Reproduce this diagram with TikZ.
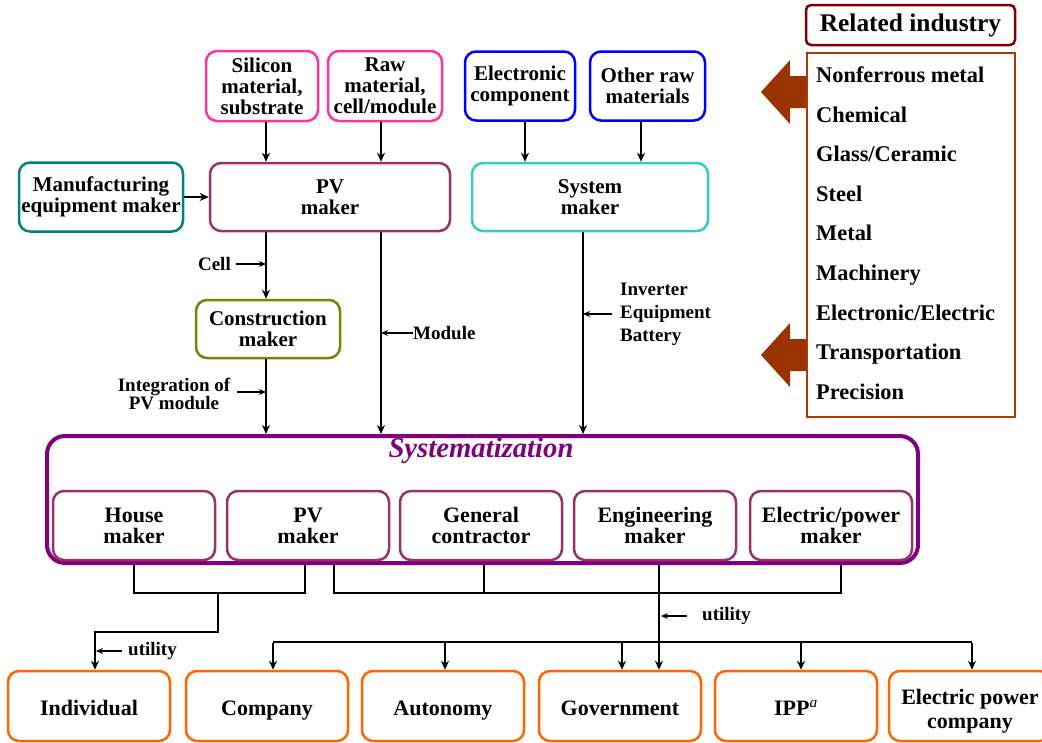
\documentclass[tikz,border=0pt]{standalone}
\usepackage{fontspec}
\setmainfont{Liberation Serif}
\usetikzlibrary{arrows.meta,calc}
\definecolor{cpink}{HTML}{FF3399}
\definecolor{cblue}{HTML}{0000FF}
\definecolor{cteal}{HTML}{008080}
\definecolor{cplum}{HTML}{993366}
\definecolor{cturq}{HTML}{33CCCC}
\definecolor{colive}{HTML}{808000}
\definecolor{cpurple}{HTML}{800080}
\definecolor{corange}{HTML}{FF6600}
\definecolor{cdred}{HTML}{800000}
\definecolor{cbrown}{HTML}{A63C0A}
\definecolor{carrow}{HTML}{993300}
\tikzset{
  box/.style={draw=#1, rounded corners=11pt, line width=2.5pt, align=center, inner sep=0pt,
    font=\bfseries\fontsize{21}{21}\selectfont},
  ibox/.style={box=cplum, minimum width=162pt, minimum height=69pt,
    font=\bfseries\fontsize{22}{21}\selectfont},
  obox/.style={box=corange, minimum width=162pt, minimum height=70pt,
    font=\bfseries\fontsize{22}{24}\selectfont},
  one/.style={text height=18pt, text depth=0pt},
  ln/.style={line width=2pt, black},
  arr/.style={ln, -{Stealth[length=9pt,width=8pt]}},
  sarr/.style={line width=1.5pt, -{Stealth[length=7pt,width=6pt]}},
  lbl/.style={font=\bfseries\fontsize{19}{19}\selectfont, inner sep=0pt, align=center},
  item/.style={font=\bfseries\fontsize{22.4}{22}\selectfont, inner sep=0pt, anchor=base west},
}
\begin{document}
\begin{tikzpicture}[x=1pt,y=-1pt]
\useasboundingbox (0,0) rectangle (1042,742);
% x positions of vertical connectors
\coordinate (xa) at (266,0);
\coordinate (xb) at (381,0);
\coordinate (xc) at (525,0);
\coordinate (xd) at (641,0);
\coordinate (xe) at (583,0);
% top boxes
\node[box=cpink, minimum width=112pt, minimum height=70pt] (sil) at (262,86) {Silicon\\material,\\substrate};
\node[box=cpink, minimum width=114pt, minimum height=70pt] (raw) at (385,86) {Raw\\material,\\cell/module};
\node[box=cblue, minimum width=110pt, minimum height=69pt] (elec) at (520,86) {Electronic\\component};
\node[box=cblue, minimum width=115pt, minimum height=69pt] (oraw) at (647.5,86) {Other raw\\materials};
\node[box=cteal, minimum width=164pt, minimum height=69pt] (mfg) at (101,197) {Manufacturing\\equipment maker};
\node[box=cplum, minimum width=240pt, minimum height=68pt] (pvm) at (330,197) {PV\\maker};
\node[box=cturq, minimum width=236pt, minimum height=68pt] (sysm) at (590,197) {System\\maker};
\node[box=colive, minimum width=144pt, minimum height=58pt] (cons) at (268,329) {Construction\\maker};
% related industry
\node[draw=cdred, rounded corners=5pt, line width=2.5pt, minimum width=209pt, minimum height=40pt,
  font=\bfseries\fontsize{25.4}{25}\selectfont, inner sep=0pt] (relind) at (910.5,25) {Related industry};
\node[draw=cbrown, line width=2.5pt, minimum width=208pt, minimum height=364pt, inner sep=0pt] (list) at (911,235) {};
\foreach \t [count=\i] in {Nonferrous metal,Chemical,Glass/Ceramic,Steel,Metal,Machinery,Electronic/Electric,Transportation,Precision}
  \node[item] (it\i) at (816,{82.5+39.6*(\i-1)}) {\t};
% big arrows
\fill[carrow] (list.west |- 0,76) -- (790,76) -- (790,60) -- (761,92) -- (790,124) -- (790,108) -- (list.west |- 0,108) -- cycle;
\fill[carrow] (list.west |- 0,339) -- (790,339) -- (790,323) -- (761,355) -- (790,387) -- (790,371) -- (list.west |- 0,371) -- cycle;
% systematization
\node[draw=cpurple, rounded corners=18pt, line width=4pt, minimum width=871pt, minimum height=127pt, inner sep=0pt] (systz) at (482.5,499.5) {};
\node[font=\bfseries\itshape\fontsize{28.7}{28}\selectfont, text=cpurple, inner sep=0pt] (stitle) at (481,451) {Systematization};
\node[ibox] (house) at (134,525.5) {House\\maker};
\node[ibox] (pv2) at (308,525.5) {PV\\maker};
\node[ibox] (gen) at (481,525.5) {General\\contractor};
\node[ibox] (eng) at (655,525.5) {Engineering\\maker};
\node[ibox] (epm) at (831,525.5) {Electric/power\\maker};
% bottom boxes
\node[obox, one] (ind) at (89,706) {Individual};
\node[obox, one] (comp) at (267,706) {Company};
\node[obox, one] (aut) at (443,706) {Autonomy};
\node[obox, one] (gov) at (620,706) {Government};
\node[obox, one] (ipp) at (796,706) {IPP\textsuperscript{\itshape\mdseries a}};
\node[obox] (epc) at (970,706) {};
\node[align=center, inner sep=0pt, font=\bfseries\fontsize{22}{24}\selectfont] (epctext) at (970,711) {Electric power\\company};
% top connectors
\draw[arr] (sil.south -| xa) -- (pvm.north -| xa);
\draw[arr] (raw.south -| xb) -- (pvm.north -| xb);
\draw[arr] (elec.south -| xc) -- (sysm.north -| xc);
\draw[arr] (oraw.south -| xd) -- (sysm.north -| xd);
\draw[arr] (mfg.east) -- (mfg.east -| pvm.west);
\draw[arr] (pvm.south -| xa) -- (cons.north -| xa);
\draw[arr] (pvm.south -| xb) -- (systz.north -| xb);
\draw[arr] (cons.south -| xa) -- (systz.north -| xa);
\draw[arr] (sysm.south -| xe) -- (systz.north -| xe);
% labels
\node[lbl, anchor=east] (cell) at (231,264) {Cell};
\draw[sarr] ([xshift=5pt]cell.east) -- (cell.east -| xa);
\node[lbl, anchor=west] (module) at (413,333) {Module};
\draw[sarr] (module.west) -- (module.west -| xb);
\node[lbl, font=\bfseries\fontsize{19}{18}\selectfont] (integ) at (174,394) {Integration of\\PV module};
\draw[sarr] ([xshift=7pt]integ.east |- 0,392) -- (xa |- 0,392);
\node[lbl, anchor=west, align=left, font=\bfseries\fontsize{19}{23}\selectfont] (inv) at (620,314) {Inverter\\Equipment\\Battery};
\draw[sarr] ([xshift=-8pt]inv.west) -- (inv.west -| xe);
% bottom connectors
\coordinate (j1) at (218,593);
\coordinate (j2) at (659,593);
\coordinate (j3) at (218,632);
\coordinate (hl) at (273,642);
\coordinate (hr) at (972,642);
\draw[ln] (house.south |- systz.south) |- (j1) -| ([xshift=-3pt]pv2.south |- systz.south);
\draw[arr] (j1) -- (j3) -| ([xshift=6pt]ind.north);
\node[lbl, anchor=west] (util1) at (128,651) {utility};
\draw[sarr] ([xshift=-6pt]util1.west) -- ([xshift=7pt]util1.west -| ind.north);
\draw[ln] ([xshift=26pt]pv2.south |- systz.south) |- (j2) -| ([xshift=10pt]epm.south |- systz.south);
\draw[ln] ([xshift=3pt]gen.south |- systz.south) -- ([xshift=3pt]gen.south |- j2);
\draw[arr] ([xshift=4pt]eng.south |- systz.south) -- ([xshift=4pt]eng.south |- gov.north);
\node[lbl, anchor=west] (util2) at (702,616) {utility};
\draw[sarr] ([xshift=-15pt]util2.west) -- ([xshift=6pt]util2.west -| eng.south);
\draw[ln] (hl) -- (hr);
\draw[arr] ([yshift=-1pt]hl) -- ([xshift=6pt]comp.north);
\draw[arr] ([xshift=2pt]aut.north |- hl) -- ([xshift=2pt]aut.north);
\draw[arr] ([xshift=2pt]gov.north |- hl) -- ([xshift=2pt]gov.north);
\draw[arr] ([xshift=5pt]ipp.north |- hl) -- ([xshift=5pt]ipp.north);
\draw[arr] ([yshift=-1pt]hr) -- ([xshift=2pt]epc.north);
\end{tikzpicture}
\end{document}
